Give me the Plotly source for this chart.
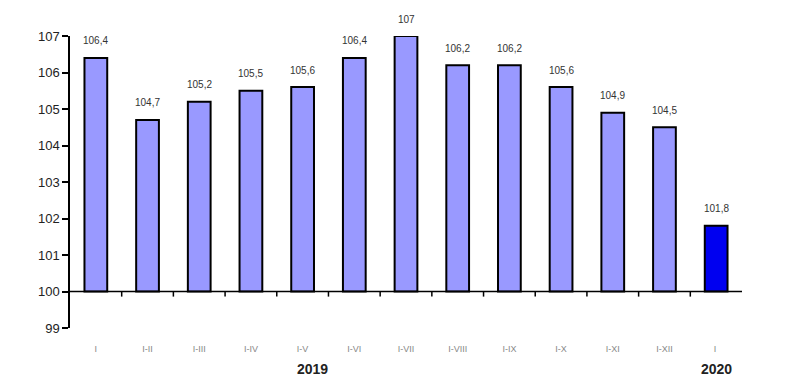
import plotly.graph_objects as go

categories = ["I", "I-II", "I-III", "I-IV", "I-V", "I-VI", "I-VII", "I-VIII", "I-IX", "I-X", "I-XI", "I-XII", "I "]
values = [106.4, 104.7, 105.2, 105.5, 105.6, 106.4, 107.0, 106.2, 106.2, 105.6, 104.9, 104.5, 101.8]
colors = ["#9999FF"] * 12 + ["#0000F0"]
years = [("2019", 4.2), ("2020", 12)]
yticks = list(range(99, 108))

FONT = "Liberation Sans, Arial, sans-serif"

def fmt(v):
    s = ("%.1f" % v).rstrip("0").rstrip(".")
    return s.replace(".", ",")

xs = list(range(len(categories)))

fig = go.Figure()
fig.add_trace(go.Bar(
    x=xs, y=[v - 100 for v in values], base=100,
    width=0.44,
    marker=dict(color=colors, line=dict(color="black", width=2)),
    hoverinfo="skip",
))

annotations = []
for i, v in zip(xs, values):
    annotations.append(dict(x=i, y=v, xref="x", yref="y", text=fmt(v), showarrow=False,
                            yshift=17, font=dict(family=FONT, size=10, color="#333333")))
for t, xpos in years:
    annotations.append(dict(x=xpos, y=0, xref="x", yref="paper", text="<b>%s</b>" % t, showarrow=False,
                            yanchor="middle", yshift=-41, font=dict(family=FONT, size=14, color="#222222")))

shapes = [dict(type="line", xref="x", yref="y", x0=-0.5, x1=len(categories) - 0.5, y0=100, y1=100,
               line=dict(color="black", width=1.5))]
for i in range(len(categories) - 1):
    shapes.append(dict(type="line", xref="x", yref="y", x0=i + 0.5, x1=i + 0.5, y0=100, y1=99.86,
                       line=dict(color="black", width=1.5)))

fig.update_layout(
    width=792, height=381,
    margin=dict(l=62, r=58, t=28, b=61),
    plot_bgcolor="white", paper_bgcolor="white",
    showlegend=False,
    annotations=annotations,
    shapes=shapes,
    xaxis=dict(
        tickmode="array", tickvals=xs, ticktext=categories,
        range=[-0.5, len(categories) - 0.5],
        showgrid=False, zeroline=False, showline=False, ticks="",
        tickfont=dict(family=FONT, size=9, color="#888888"),
        ticklabelstandoff=14,
    ),
    yaxis=dict(
        range=[99, 107], tickvals=yticks, ticktext=[str(t) for t in yticks],
        showgrid=False, zeroline=False, showline=True, linecolor="black", linewidth=1.5,
        ticks="outside", ticklen=6, tickcolor="black", tickwidth=1.5,
        tickfont=dict(family=FONT, size=13, color="#222222"),
    ),
)

fig.write_html("out.html")
